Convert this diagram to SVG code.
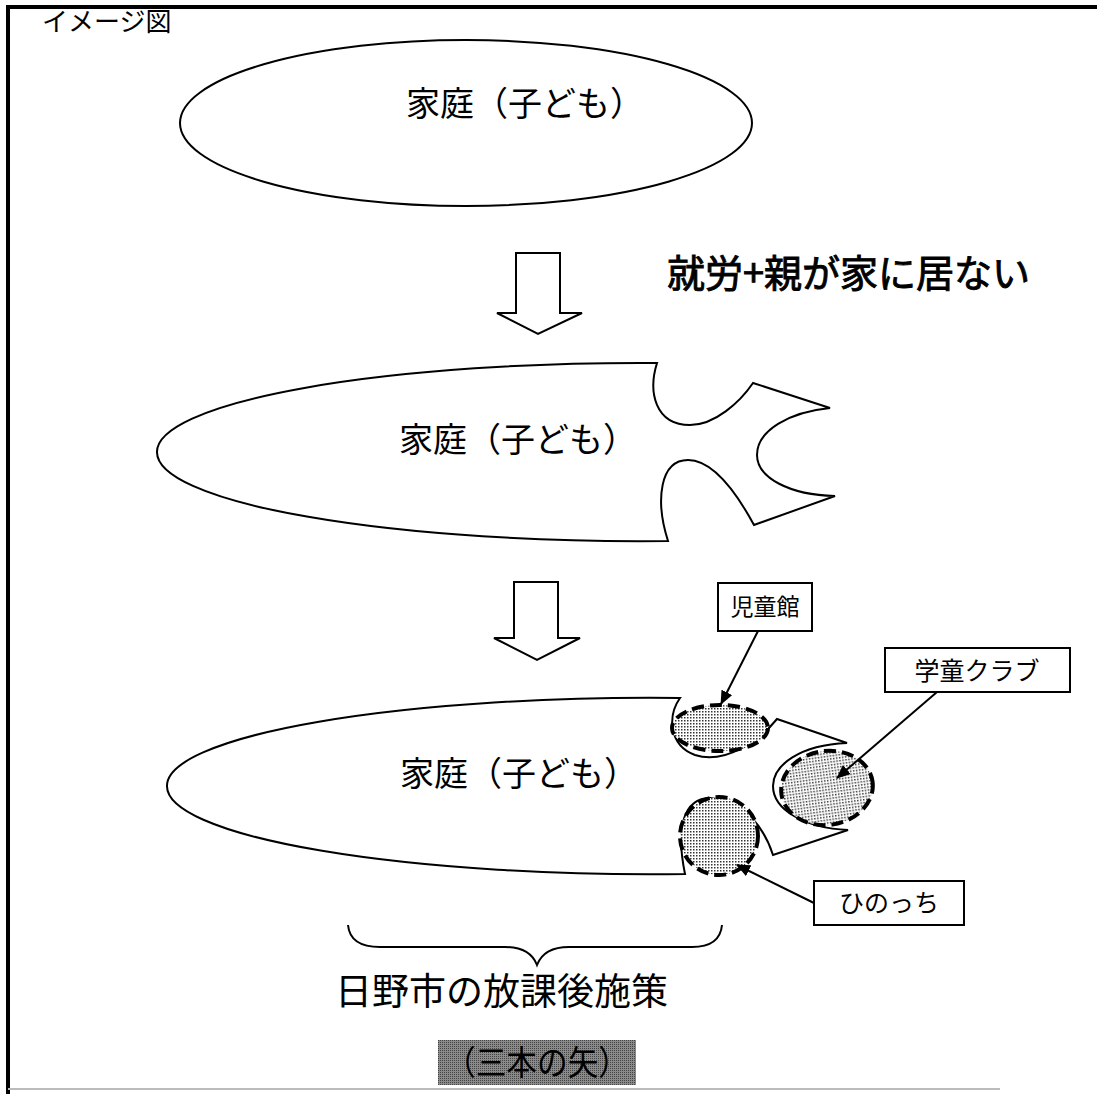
<svg xmlns="http://www.w3.org/2000/svg" width="1097" height="1094" viewBox="0 0 1097 1094">
<style>
.ln{fill:none;stroke:#000;stroke-width:2}
.sh{fill:#fff;stroke:#000;stroke-width:2}
.t{font-family:"Noto Sans CJK JP","Liberation Serif",serif;fill:#000}
.box{fill:#fff;stroke:#000;stroke-width:2}
.dot{fill:url(#stip);stroke:#000;stroke-width:4;stroke-dasharray:12 6}
.bar{fill:#fff;stroke:#000;stroke-width:2}
</style>
<defs>
<pattern id="stip" width="3" height="3" patternUnits="userSpaceOnUse">
<rect width="3" height="3" fill="#fff"/>
<rect x="0" y="0" width="1.5" height="1.5" fill="#333"/>
</pattern>
<pattern id="stip2" width="2" height="2" patternUnits="userSpaceOnUse">
<rect width="2" height="2" fill="#8a8a8a"/>
<rect x="0" y="0" width="1" height="1" fill="#444"/>
</pattern>
<marker id="ah" viewBox="0 0 14 12" refX="13" refY="6" markerWidth="14" markerHeight="12" orient="auto" markerUnits="userSpaceOnUse">
<path d="M0,0 L14,6 L0,12 Z" fill="#000"/>
</marker>
</defs>
<rect width="1097" height="1094" fill="#fff"/>
<g id="frame">
<line x1="8" y1="7" x2="1097" y2="7" stroke="#000" stroke-width="4"/>
<line x1="8" y1="5" x2="8" y2="1094" stroke="#000" stroke-width="4"/>
<line x1="8" y1="1089" x2="1000" y2="1089" stroke="#bbb" stroke-width="2"/>
</g>
<g id="title"><text class="t" x="42" y="31" font-size="26">イメージ図</text></g>

<g id="home1">
<ellipse class="sh" cx="466" cy="123" rx="286" ry="83"/>
<text class="t" x="525" y="116" font-size="34" text-anchor="middle">家庭（子ども）</text>
</g>

<g id="arrow1">
<path class="bar" d="M516,253 L560,253 L560,313 L582,313 L538,334 L497,313 L516,313 Z"/>
</g>
<g id="reason"><text class="t" x="667" y="287" font-size="38" stroke="#000" stroke-width="0.9">就労+親が家に居ない</text></g>

<g id="home2">
<path class="sh" d="M657,363 C648,392 655,425 690,425 C715,425 740,402 753,383 L830,408 C790,412 757,430 757,455 C757,478 790,495 835,496 L754,525 C735,490 712,460 688,460 C660,460 655,500 668,541 A483 89 0 0 1 157,452 A483 89 0 0 1 657,363 Z"/>
<text class="t" x="518" y="452" font-size="34" text-anchor="middle">家庭（子ども）</text>
</g>

<g id="arrow2">
<path class="bar" d="M514,582 L558,582 L558,638 L580,638 L537,660 L494,638 L514,638 Z"/>
</g>

<g id="home3">
<path class="sh" d="M680,698 C668,715 668,745 695,755 C725,765 760,740 777,719 L847,743 C800,745 773,765 773,786 C773,810 805,828 848,830 L773,855 C765,830 745,800 712,798 C682,797 676,830 685,874 A483 88 0 0 1 167,786 A483 88 0 0 1 680,698 Z"/>
<text class="t" x="519" y="786" font-size="34" text-anchor="middle">家庭（子ども）</text>
</g>

<g id="jidokan">
<ellipse class="dot" cx="720" cy="728" rx="48" ry="23"/>
<rect class="box" x="718" y="583" width="94" height="48"/>
<text class="t" x="765" y="615" font-size="23" text-anchor="middle">児童館</text>
</g>
<g id="gakudo">
<ellipse class="dot" cx="827" cy="788" rx="46" ry="37" transform="rotate(-8 827 788)"/>
<rect class="box" x="885" y="648" width="185" height="44"/>
<text class="t" x="977" y="680" font-size="25" text-anchor="middle">学童クラブ</text>
</g>
<g id="hinocchi">
<ellipse class="dot" cx="719" cy="836" rx="39" ry="39"/>
<rect class="box" x="814" y="881" width="150" height="44"/>
<text class="t" x="889" y="912" font-size="25" text-anchor="middle">ひのっち</text>
</g>

<g id="connectors">
<line class="ln" x1="758" y1="631" x2="721" y2="704" marker-end="url(#ah)"/>
<line class="ln" x1="937" y1="692" x2="837" y2="778" marker-end="url(#ah)"/>
<line class="ln" x1="814" y1="903" x2="737" y2="865" marker-end="url(#ah)"/>
</g>

<g id="brace">
<path class="ln" d="M348,925 Q350,947 380,947 L505,947 Q530,947 537,965 Q544,947 569,947 L692,947 Q720,947 722,925"/>
</g>
<g id="policy"><text class="t" x="335" y="1005" font-size="37">日野市の放課後施策</text></g>
<g id="arrows3">
<rect x="438" y="1040" width="198" height="45" fill="url(#stip2)"/>
<text class="t" x="537" y="1075" font-size="34" text-anchor="middle" textLength="184" lengthAdjust="spacingAndGlyphs">（三本の矢）</text>
</g>
</svg>
